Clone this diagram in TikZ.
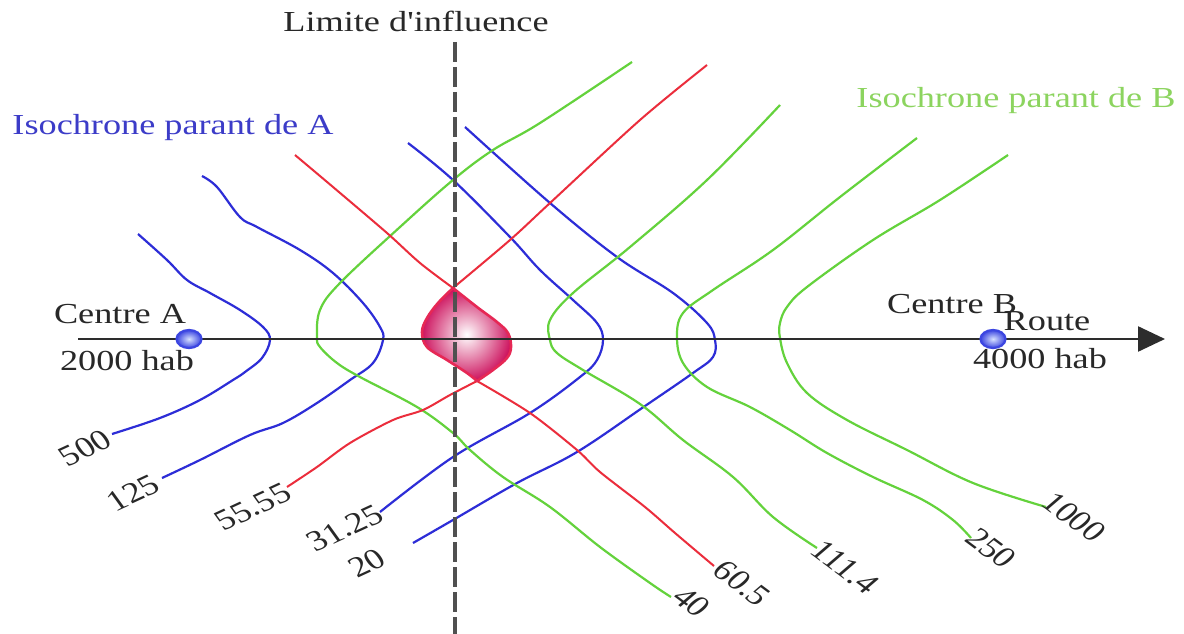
\documentclass[tikz,border=0pt]{standalone}
\usepackage{fontspec}
\setmainfont{Liberation Serif}[Ligatures=TeXOff]
\usepackage{graphicx}
\usetikzlibrary{arrows.meta,shapes.geometric}
\definecolor{isoblue}{RGB}{45,45,215}
\definecolor{isogreen}{RGB}{100,210,60}
\definecolor{isored}{RGB}{235,45,60}
\definecolor{txtblue}{RGB}{60,60,200}
\definecolor{txtgreen}{RGB}{140,212,95}
\definecolor{txtgray}{RGB}{40,40,40}
\definecolor{axisgray}{RGB}{45,45,45}
\definecolor{dashgray}{RGB}{80,80,80}
\definecolor{lensdark}{RGB}{205,20,95}
\definecolor{lensedge}{RGB}{230,40,85}
\definecolor{dotblue}{RGB}{60,70,225}
\definecolor{dotlight}{RGB}{215,225,255}
\newcommand{\hstr}[1]{\scalebox{1.25}[1]{#1}}
\newcommand{\lblL}[1]{\scalebox{1.25}[1]{\rotatebox{30}{#1}}}
\newcommand{\lblR}[1]{\scalebox{1.25}[1]{\rotatebox{-43}{#1}}}
\begin{document}
\begin{tikzpicture}[x=1pt,y=-1pt,
  txt/.style={font=\fontsize{29}{34}\selectfont, text=txtgray, inner sep=0pt},
  basetxt/.style={txt, anchor=base},
  isoA/.style={isoblue, line width=2.2pt},
  isoB/.style={isogreen, line width=2.2pt},
  isoR/.style={isored, line width=2pt},
  centredot/.style={ellipse, minimum width=25pt, minimum height=18pt, inner sep=0pt,
    draw=dotblue, line width=2.2pt, inner color=dotlight, outer color=dotblue}
]
\useasboundingbox (0,0) rectangle (1184,634);
\fill[white] (0,0) rectangle (1184,634);

% blue isochrones of A
\draw[isoA] plot[smooth, tension=0.6] coordinates {(138,234) (167,260) (187,280) (210,293) (240,310) (263,327) (270,340) (262,358) (245,372) (233,380) (200,400) (160,418) (112,434)};
\draw[isoA] plot[smooth, tension=0.6] coordinates {(202,176) (217,187) (240,217) (257,227) (300,250) (333,273) (363,303) (380,327) (383,340) (373,363) (350,380) (317,403) (283,423) (250,435) (200,460) (162,478)};
\draw[isoA] plot[smooth, tension=0.6] coordinates {(408,143) (453,180) (510,237) (540,270) (573,300) (597,323) (603,340) (597,360) (580,377) (530,413) (453,457) (380,512)};
\draw[isoA] plot[smooth, tension=0.6] coordinates {(465,127) (550,203) (617,257) (673,293) (707,323) (715,340) (713,357) (693,373) (645,406) (577,452) (517,483) (453,520) (413,543)};

% green isochrones of B
\draw[isoB] plot[smooth, tension=0.6] coordinates {(632,62) (540,123) (493,150) (453,180) (400,227) (340,283) (320,310) (317,337) (320,347) (337,363) (360,377) (417,407) (453,433) (470,450) (503,477) (550,507) (600,547) (650,583) (671,597)};
\draw[isoB] plot[smooth, tension=0.6] coordinates {(780,105) (707,180) (630,247) (573,293) (550,320) (550,340) (557,353) (583,370) (640,404) (683,440) (733,477) (773,517) (817,548)};
\draw[isoB] plot[smooth, tension=0.6] coordinates {(917,138) (840,197) (773,250) (713,290) (683,313) (677,337) (683,363) (707,387) (750,407) (790,430) (827,453) (873,477) (923,500) (953,520) (971,538)};
\draw[isoB] plot[smooth, tension=0.6] coordinates {(1008,155) (940,200) (873,240) (807,287) (787,307) (780,323) (780,338) (787,363) (807,393) (847,420) (907,450) (973,483) (1046,507)};

% red isochrones (limit)
\draw[isoR] plot[smooth, tension=0.5] coordinates {(295,155) (333,187) (387,233) (420,263) (453,288)};
\draw[isoR] plot[smooth, tension=0.5] coordinates {(477,381) (450,395) (423,410) (393,420) (350,443) (317,467) (287,487)};
\draw[isoR] plot[smooth, tension=0.5] coordinates {(707,65) (640,120) (550,203) (510,240) (453,288)};
\draw[isoR] plot[smooth, tension=0.5] coordinates {(477,381) (530,413) (577,450) (600,472) (645,507) (675,533) (714,566)};

% lens
\path[inner color=white, outer color=lensdark]
  plot[smooth, tension=0.6] coordinates {(453,288) (477,307) (497,322) (508,333) (511,347) (507,358) (493,370) (477,381)}
  -- plot[smooth, tension=0.6] coordinates {(477,381) (467,373) (447,360) (427,347) (422,332) (427,318) (438,303) (453,288)} -- cycle;
\draw[lensedge, line width=2.6pt, line join=round]
  plot[smooth, tension=0.6] coordinates {(453,288) (477,307) (497,322) (508,333) (511,347) (507,358) (493,370) (477,381)}
  -- plot[smooth, tension=0.6] coordinates {(477,381) (467,373) (447,360) (427,347) (422,332) (427,318) (438,303) (453,288)} -- cycle;

% limit of influence (dashed)
\coordinate (limtop) at (455,42);
\coordinate (limbot) at (455,634);
\draw[dashgray, line width=3.2pt, dash pattern=on 20pt off 5pt] (limtop) -- (limbot);

% road axis
\coordinate (roadstart) at (78,339);
\coordinate (roadtip) at (1165,339);
\draw[axisgray, line width=2.4pt, -{Triangle[length=27pt,width=25pt]}] (roadstart) -- (roadtip);

% centres
\node[centredot] (cA) at (189,339) {};
\node[centredot] (cB) at (993,339) {};

% texts
\node[basetxt] (limite) at (416,32) {\hstr{Limite d'influence}};
\node[basetxt, text=txtblue] (isoAlbl) at (173,135) {\hstr{Isochrone parant de A}};
\node[basetxt, text=txtgreen] (isoBlbl) at (1016,107) {\hstr{Isochrone parant de B}};
\node[basetxt] (centreA) at (120,323) {\hstr{Centre A}};
\node[basetxt] (habA) at (127,370) {\hstr{2000 hab}};
\node[basetxt] (centreB) at (952,313) {\hstr{Centre B}};
\node[basetxt] (route) at (1047,330) {\hstr{Route}};
\node[basetxt] (habB) at (1040,368) {\hstr{4000 hab}};

% curve labels
\node[txt] (l500) at (85,448) {\lblL{500}};
\node[txt] (l125) at (133,493) {\lblL{125}};
\node[txt] (l5555) at (253,507) {\lblL{55.55}};
\node[txt] (l3125) at (345,528) {\lblL{31.25}};
\node[txt] (l20) at (367,563) {\lblL{20}};
\node[txt] (l40) at (692,602) {\lblR{40}};
\node[txt] (l605) at (742,583) {\lblR{60.5}};
\node[txt] (l1114) at (845,567) {\lblR{111.4}};
\node[txt] (l250) at (991,548) {\lblR{250}};
\node[txt] (l1000) at (1074,517) {\lblR{1000}};
\end{tikzpicture}
\end{document}
